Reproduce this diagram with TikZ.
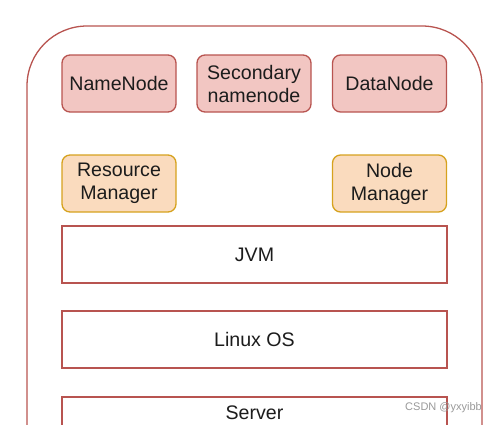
\documentclass[tikz,border=0pt]{standalone}
\usepackage{fontspec}
\setmainfont{Liberation Sans}
\definecolor{redline}{HTML}{B85450}
\definecolor{redfill}{HTML}{F2C6C2}
\definecolor{orangeline}{HTML}{D6A21E}
\definecolor{orangefill}{HTML}{FADBBE}
\definecolor{inktext}{HTML}{1C1C1C}
\tikzset{
  hdfsbox/.style={draw=redline, fill=redfill, line width=1.3pt, rounded corners=8pt,
    minimum width=114pt, minimum height=57pt, align=center, text=inktext,
    font=\fontsize{19.6}{23}\selectfont},
  yarnbox/.style={hdfsbox, draw=orangeline, fill=orangefill},
  layerbox/.style={draw=redline, fill=white, line width=1.3pt, text=inktext,
    minimum width=385pt, minimum height=57pt, font=\fontsize{19.6}{23}\selectfont}
}
\begin{document}
\begin{tikzpicture}[x=1pt,y=-1pt]

% Page frame
\useasboundingbox (0,0) rectangle (497,424);
\clip (0,0) rectangle (497,424);

% Outer server frame
\draw[redline, line width=1.3pt, rounded corners=60pt] (27,26) rectangle (482,520);

% HDFS daemons
\node[hdfsbox] (namenode) at (119,83.5) {NameNode};
\node[hdfsbox] (secnamenode) at (254,83.5) {Secondary\\namenode};
\node[hdfsbox] (datanode) at (389.5,83.5) {DataNode};

% YARN daemons
\node[yarnbox] (resmanager) at (119,183.5) {Resource\\Manager};
\node[yarnbox] (nodemanager) at (389.5,183.5) {Node\\Manager};

% Layers
\node[layerbox] (jvm) at (254.5,254.5) {JVM};
\node[layerbox] (linux) at (254.5,339.5) {Linux OS};
\node[layerbox, minimum height=80pt] (server) at (254.5,437) {};
\node[text=inktext, font=\fontsize{19.6}{23}\selectfont] (serverlabel) at (254.5,413) {Server};

% Watermark
\node[text=black!40, font=\fontsize{11}{13}\selectfont, anchor=east, inner sep=0pt] (mark) at (482,408) {CSDN @yxyibb};

\end{tikzpicture}
\end{document}
